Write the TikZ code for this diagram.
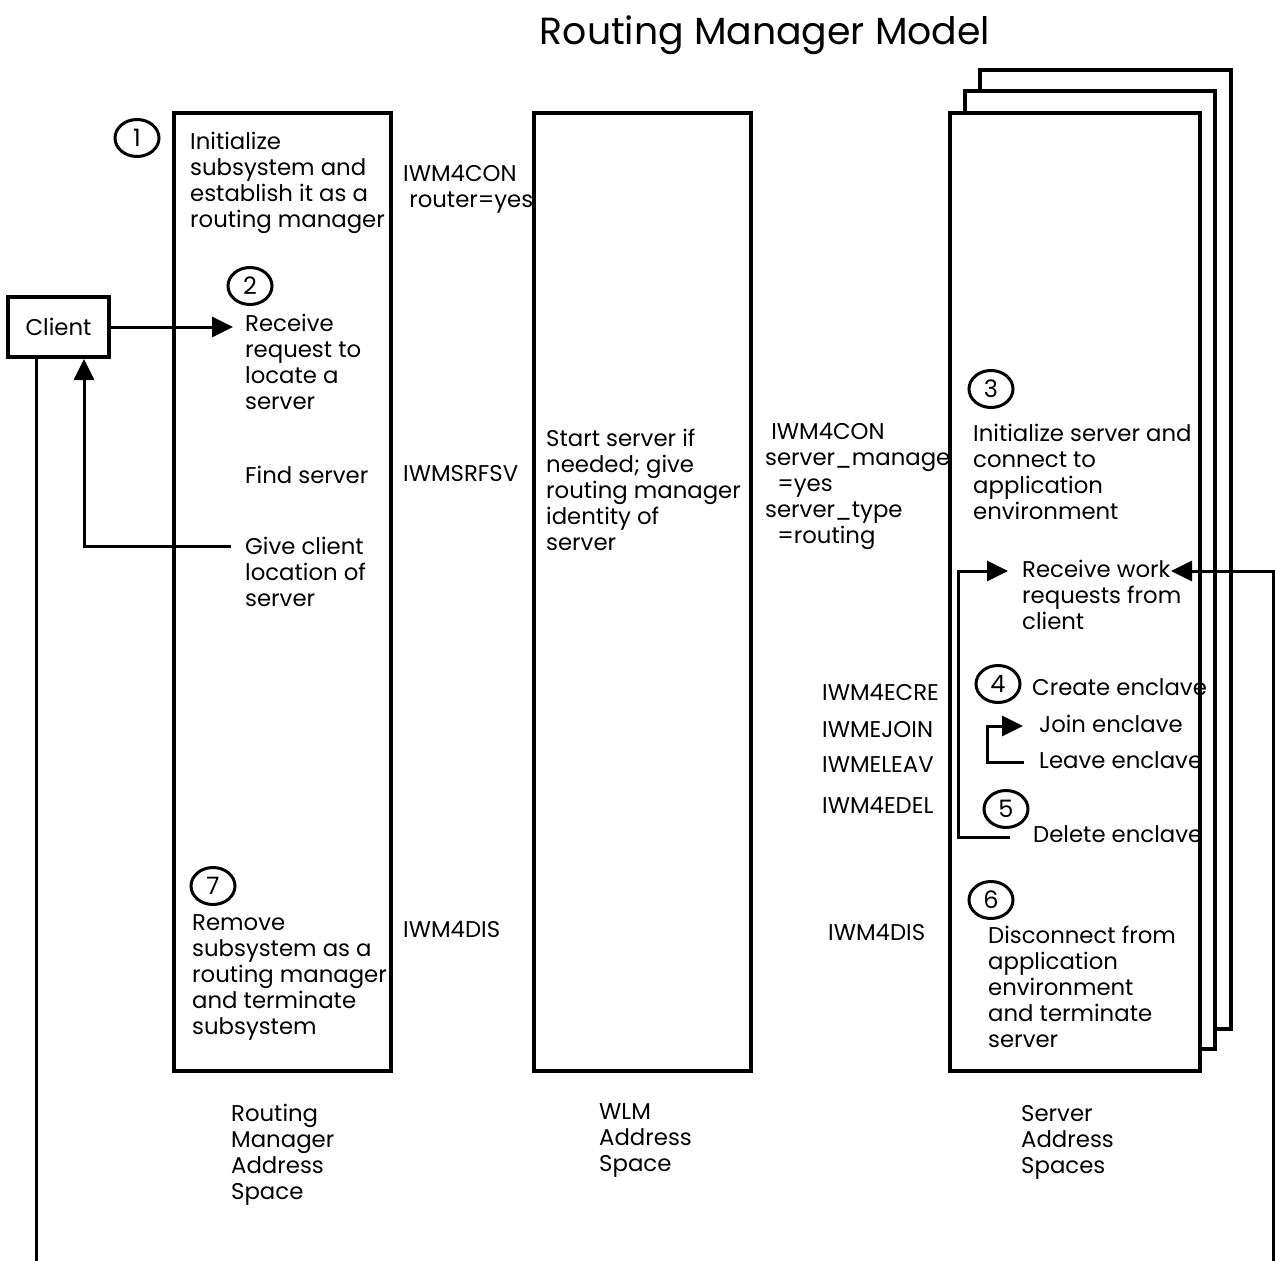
\documentclass[tikz,border=0pt]{standalone}
\usepackage{fontspec}
\setmainfont{Poppins}
\usetikzlibrary{arrows.meta,shapes.geometric}
\begin{document}
\begin{tikzpicture}[x=1pt,y=-1pt,
  box/.style={draw, line width=3.5pt, fill=white, anchor=north west, inner sep=0},
  txt/.style={anchor=north west, yshift=18.2pt, align=left, inner sep=0, font=\fontsize{22.8}{26}\selectfont, execute at begin node=\strut},
  num/.style={ellipse, draw, line width=3pt, minimum width=44pt, minimum height=37pt, inner sep=0, font=\fontsize{24}{26}\selectfont},
  conn/.style={line width=3pt, -{Triangle[length=21pt,width=20pt]}},
  plainline/.style={line width=3pt}]
\useasboundingbox (0,0) rectangle (1275,1261);
% title
\node[anchor=base, inner sep=0, font=\fontsize{37.8}{44}\selectfont] (title) at (765,44) {Routing Manager Model};
% boxes
\node[box, minimum width=217pt, minimum height=958pt] (rm) at (172,111) {};
\node[box, minimum width=217pt, minimum height=958pt] (wlm) at (532,111) {};
\node[box, minimum width=251pt, minimum height=959pt] (srv3) at (978,68) {};
\node[box, minimum width=250pt, minimum height=958pt] (srv2) at (963,89) {};
\node[box, minimum width=250pt, minimum height=958pt] (srv1) at (948,111) {};
% client
\node[draw, line width=3.5pt, minimum width=101pt, minimum height=60pt, inner sep=0, font=\fontsize{22.8}{26}\selectfont] (client) at (58.5,327) {Client};
% numbers
\node[num] (n1) at (137,138) {1};
\node[num] (n2) at (250,286) {2};
\node[num] (n3) at (991,389) {3};
\node[num] (n4) at (998,684) {4};
\node[num] (n5) at (1006,809) {5};
\node[num] (n6) at (991,900) {6};
\node[num] (n7) at (213,886) {7};
% routing manager texts
\node[txt] (t1) at (190,150) {Initialize\\subsystem and\\establish it as a\\routing manager};
\node[txt] (t2) at (245,332) {Receive\\request to\\locate a\\server};
\node[txt] (t3) at (245,483) {Find server};
\node[txt] (t4) at (245,555) {Give client\\location of\\server};
\node[txt] (t7) at (192,933) {Remove\\subsystem as a\\routing manager\\and terminate\\subsystem};
% macro labels
\node[txt] (m1) at (403,183) {IWM4CON\\\ router=yes};
\node[txt] (m2) at (403,481) {IWMSRFSV};
\node[txt] (m3) at (403,937) {IWM4DIS};
% WLM text
\node[txt] (w1) at (546,447) {Start server if\\needed; give\\routing manager\\identity of\\server};
% server macros
\node[txt] (s0) at (765,441) {\ IWM4CON\\server\_manage\\\ \ =yes\\server\_type\\\ \ =routing};
\node[txt] (e1) at (822,700) {IWM4ECRE};
\node[txt] (e2) at (822,737) {IWMEJOIN};
\node[txt] (e3) at (822,772) {IWMELEAV};
\node[txt] (e4) at (822,813) {IWM4EDEL};
\node[txt] (e5) at (828,940) {IWM4DIS};
% server texts
\node[txt] (s3) at (973,442) {Initialize server and\\connect to\\application\\environment};
\node[txt] (sw) at (1022,578) {Receive work\\requests from\\client};
\node[txt] (sc) at (1032,695) {Create enclave};
\node[txt] (sj) at (1039,732) {Join enclave};
\node[txt] (sl) at (1039,768) {Leave enclave};
\node[txt] (sd) at (1033,842) {Delete enclave};
\node[txt] (s6) at (988,944) {Disconnect from\\application\\environment\\and terminate\\server};
% bottom labels
\node[txt] (l1) at (231,1122) {Routing\\Manager\\Address\\Space};
\node[txt] (l2) at (599,1122) {WLM\\Address\\Space};
\node[txt] (l3) at (1021,1123) {Server\\Address\\Spaces};
% connectors
\coordinate (recvtip) at (233,327);
\draw[conn] (client.east) -- (recvtip);
\coordinate (givestart) at (231,546);
\coordinate (clienttip) at (84,359);
\draw[conn] (givestart) -| (clienttip);
\coordinate (cb) at (36,1261);
\draw[plainline] (client.south -| cb) -- (cb);
\coordinate (worktip) at (1008,571);
\coordinate (delend) at (1010,837);
\draw[conn] (delend) -- ++(-52,0) |- (worktip);
\coordinate (rb) at (1273,1261);
\coordinate (worktip2) at (1171,571);
\draw[conn] (rb) |- (worktip2);
\coordinate (leaveend) at (1024,762);
\coordinate (jointip) at (1023,726);
\draw[conn] (leaveend) -- ++(-37,0) |- (jointip);
\end{tikzpicture}
\end{document}
